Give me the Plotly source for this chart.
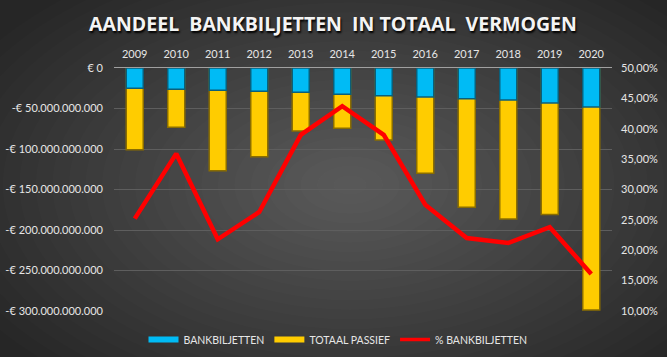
import plotly.graph_objects as go

years = ["2009", "2010", "2011", "2012", "2013", "2014", "2015", "2016", "2017", "2018", "2019", "2020"]
bankbiljetten = [-25.1e9, -26.3e9, -27.5e9, -28.8e9, -30.0e9, -32.5e9, -34.2e9, -35.8e9, -37.9e9, -39.5e9, -43.2e9, -48.1e9]
totaal_passief = [-101e9, -73.2e9, -127e9, -109.5e9, -77.8e9, -74.5e9, -88.9e9, -130e9, -172e9, -186.4e9, -181e9, -298.8e9]
pct_bankbiljetten = [0.252, 0.359, 0.218, 0.263, 0.390, 0.437, 0.390, 0.275, 0.220, 0.212, 0.238, 0.161]

left_tickvals = [0, -50e9, -100e9, -150e9, -200e9, -250e9, -300e9]
left_ticktext = ["€ 0", "-€ 50.000.000.000", "-€ 100.000.000.000", "-€ 150.000.000.000",
                 "-€ 200.000.000.000", "-€ 250.000.000.000", "-€ 300.000.000.000"]
right_tickvals = [0.10, 0.15, 0.20, 0.25, 0.30, 0.35, 0.40, 0.45, 0.50]

W, H = 667, 357
ML, MR, MT, MB = 114, 55, 68, 46
PW, PH = W - ML - MR, H - MT - MB

def px2paper_x(px):
    return (px - ML) / PW

def px2paper_y(py):
    return (H - MB - py) / PH

BLUE, YELLOW, RED = "#00BBF5", "#FFCC00", "#FF0000"
FONT = "Lato, Open Sans, sans-serif"

fig = go.Figure()

fig.add_trace(go.Bar(
    x=years, y=totaal_passief, name="TOTAAL PASSIEF",
    marker=dict(color=YELLOW, line=dict(color="#8a6d00", width=1.5)),
    width=0.41, showlegend=False,
))
fig.add_trace(go.Bar(
    x=years, y=bankbiljetten, name="BANKBILJETTEN",
    marker=dict(color=BLUE, line=dict(color="#0b5f7a", width=1.5)),
    width=0.41, showlegend=False,
))
fig.add_trace(go.Scatter(
    x=years, y=pct_bankbiljetten, name="% BANKBILJETTEN", yaxis="y2",
    mode="lines", line=dict(color=RED, width=4.5), showlegend=False,
))

# legend entries (wide swatches like the original)
for nm, col, w, rank in [("BANKBILJETTEN", BLUE, 6, 1), ("TOTAAL PASSIEF", YELLOW, 6, 2),
                         ("% BANKBILJETTEN", RED, 3.5, 3)]:
    fig.add_trace(go.Scatter(
        x=[None], y=[None], name=nm, mode="lines",
        line=dict(color=col, width=w), legendrank=rank, showlegend=True,
    ))

# radial background gradient made of stacked translucent ellipses
shapes = []
cx, cy = 350, 185
rx_max, ry_max = 430, 250
n = 26
for i in range(n):
    f = 1 - i / n
    rx, ry = rx_max * f, ry_max * f
    shapes.append(dict(
        type="circle", xref="paper", yref="paper", layer="below",
        x0=px2paper_x(cx - rx), x1=px2paper_x(cx + rx),
        y0=px2paper_y(cy + ry), y1=px2paper_y(cy - ry),
        fillcolor="rgba(255,255,255,0.0135)", line=dict(width=0),
    ))

fig.update_layout(
    width=W, height=H,
    margin=dict(l=ML, r=MR, t=MT, b=MB, autoexpand=False),
    paper_bgcolor="#262626",
    plot_bgcolor="rgba(0,0,0,0)",
    barmode="overlay",
    shapes=shapes,
    separators=",.",
    font=dict(family=FONT, color="#d9d9d9", size=11),
    title=dict(
        text="AANDEEL\u00a0\u00a0BANKBILJETTEN\u00a0\u00a0IN\u00a0TOTAAL\u00a0\u00a0VERMOGEN",
        x=333 / W, xanchor="center", y=1 - 24 / H, yanchor="middle",
        font=dict(family="Open Sans, sans-serif", size=19.5, color="#f4f4f4", weight="bold",
                  shadow="1px 2px 2px #000000"),
    ),
    xaxis=dict(
        side="top", type="category", showgrid=False, ticks="",
        showline=True, linecolor="#a0a0a0", linewidth=1, automargin=False,
        tickfont=dict(family=FONT, size=11, color="#e6e6e6"), ticklabelstandoff=5,
    ),
    yaxis=dict(
        range=[-300e9, 0], tickvals=left_tickvals, ticktext=left_ticktext,
        showgrid=True, gridcolor="#5e5e5e", gridwidth=1, zeroline=False, automargin=False,
        tickfont=dict(family=FONT, size=11, color="#e6e6e6"), ticks="", ticklabelstandoff=10,
    ),
    yaxis2=dict(
        range=[0.10, 0.50], overlaying="y", side="right", tickvals=right_tickvals,
        tickformat=".2%", showgrid=False, zeroline=False, automargin=False,
        tickfont=dict(family=FONT, size=11, color="#e6e6e6"), ticks="", ticklabelstandoff=8,
    ),
    legend=dict(
        orientation="h", x=px2paper_x(338), xanchor="center", y=-14 / PH, yanchor="top",
        font=dict(family=FONT, size=10.5, color="#e6e6e6"), bgcolor="rgba(0,0,0,0)",
        traceorder="normal", itemwidth=30,
    ),
)

fig.write_html(
    "out.html",
    config={"displayModeBar": False},
    post_script="document.body.style.margin='0';document.body.style.overflow='hidden';",
)
